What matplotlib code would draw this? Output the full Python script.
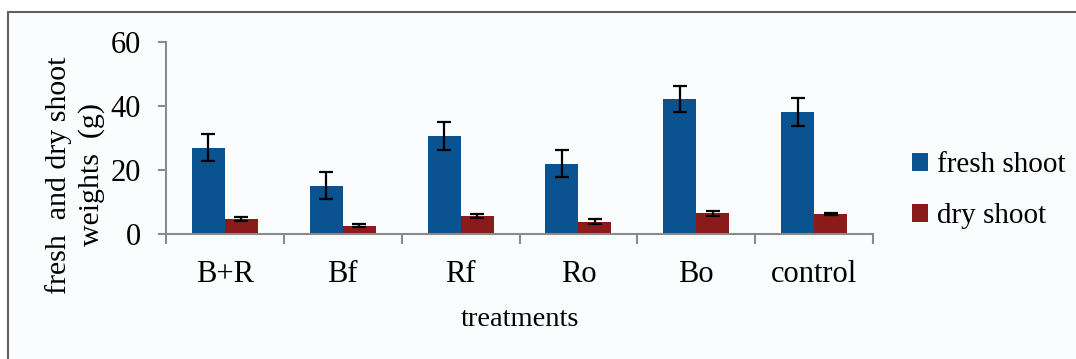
import numpy as np
import matplotlib.pyplot as plt
from matplotlib.patches import Rectangle

# Data
treatments = ["B+R", "Bf", "Rf", "Ro", "Bo", "control"]
fresh_shoot = [27.0, 15.1, 30.7, 22.0, 42.1, 38.2]
fresh_err = [4.3, 4.2, 4.3, 4.2, 4.1, 4.4]
dry_shoot = [4.6, 2.6, 5.7, 3.9, 6.5, 6.3]
dry_err = [0.6, 0.5, 0.7, 0.7, 0.75, 0.4]

BLUE = "#0a5290"
RED = "#8b1a1a"
SPINE = "#8a8a8a"

plt.rcParams["font.family"] = ["Liberation Serif", "DejaVu Serif"]

fig = plt.figure(figsize=(10.76, 3.59), dpi=100)
fig.patch.set_facecolor("white")

# outer frame (chart area border)
frame = Rectangle((8 / 1076, -0.2), 1.1, 1.2 - 12 / 359,
                  transform=fig.transFigure, facecolor="#fbfcfe",
                  edgecolor="#606060", linewidth=1.5, zorder=-10)
fig.patches.append(frame)

ax = fig.add_axes([166 / 1076, 125 / 359, 707 / 1076, 192 / 359])
ax.set_facecolor("none")

x = np.arange(len(treatments))
w = 0.28
err_kw = dict(ecolor="black", elinewidth=1.6, capsize=4.7, capthick=1.6)
ax.bar(x - w / 2, fresh_shoot, w, yerr=fresh_err, color=BLUE,
       label="fresh shoot", error_kw=err_kw, zorder=2)
ax.bar(x + w / 2, dry_shoot, w, yerr=dry_err, color=RED,
       label="dry shoot", error_kw=err_kw, zorder=2)

ax.set_xlim(-0.5, len(treatments) - 0.5)
ax.set_ylim(0, 60)
ax.set_yticks([0, 20, 40, 60])

ax.set_xticks(x)
ax.set_xticklabels(treatments)
ax.set_xticks(np.arange(-0.5, len(treatments)), minor=True)
ax.tick_params(axis="x", which="major", length=0, pad=19, labelsize=22)
ax.tick_params(axis="x", which="minor", length=7, width=1.5, color=SPINE)
ax.tick_params(axis="y", length=6, width=1.5, color=SPINE, pad=12,
               labelsize=22)

for side in ["top", "right"]:
    ax.spines[side].set_visible(False)
for side in ["left", "bottom"]:
    ax.spines[side].set_color(SPINE)
    ax.spines[side].set_linewidth(1.5)

fig.text(520 / 1076, 1 - 320 / 359, "treatments", ha="center", va="center",
         fontsize=20.5)
fig.text(75 / 1076, 1 - 175 / 359, "fresh  and dry shoot\nweights  (g)",
         rotation=90, ha="center", va="center", fontsize=21.5,
         linespacing=1.3)

ax.legend(loc="center left", bbox_to_anchor=(1.018, 0.225), frameon=False,
          fontsize=21, handlelength=0.55, handleheight=0.55,
          handletextpad=0.3, labelspacing=0.85)

fig.savefig("out.png", dpi=100)
